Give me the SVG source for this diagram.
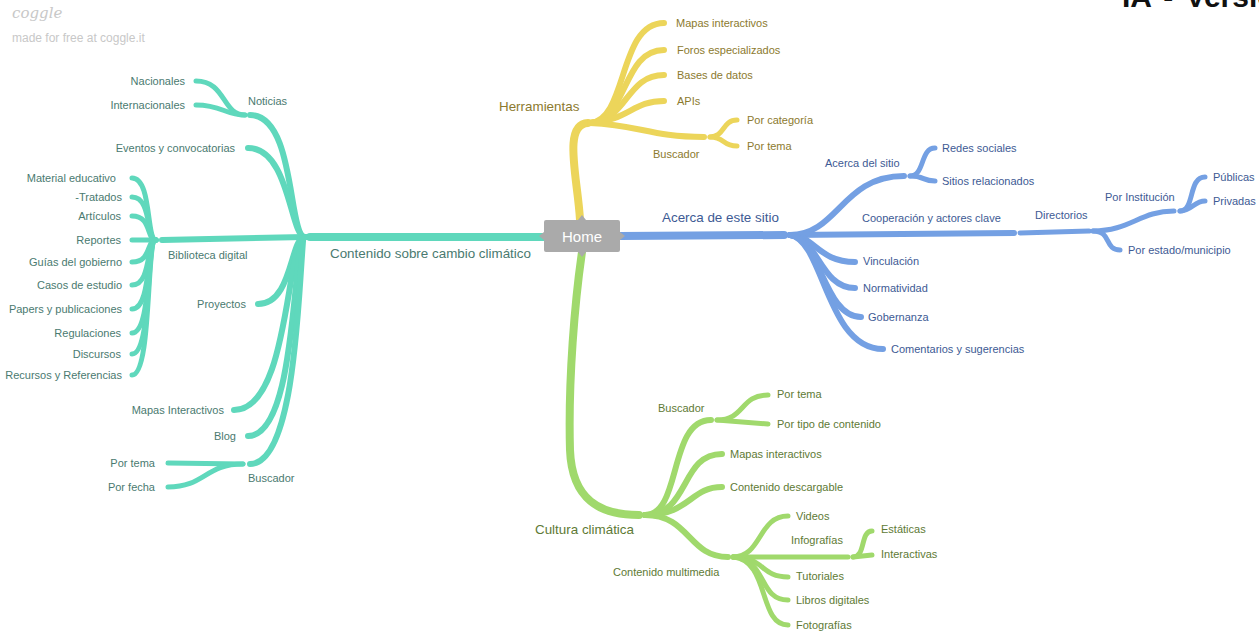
<svg xmlns="http://www.w3.org/2000/svg" width="1259" height="631" viewBox="0 0 1259 631">
<style>
text{font-family:"Liberation Sans",Arial,sans-serif;font-size:11px}
.b{fill:none;stroke-linecap:round;stroke-linejoin:round}
.t{stroke:#5fd8bc}.y{stroke:#ecd55a}.u{stroke:#74a0e3}.g{stroke:#a0d96c}
.w1{stroke-width:8}.w2{stroke-width:6}.w3{stroke-width:5}
.tt{fill:#4a7a70}.yt{fill:#8c7a2e}.ut{fill:#3d5a94}.gt{fill:#5e7a35}
.big{font-size:13.4px}
.e{text-anchor:end}
</style>
<rect width="1259" height="631" fill="#ffffff"/>
<text x="12" y="18" style="font-family:'DejaVu Serif',serif;font-style:italic;font-size:15px;fill:#c8c8c8">coggle</text>
<text x="12" y="42" style="font-size:12px;fill:#c8c8c8">made for free at coggle.it</text>
<text x="1122" y="7" style="font-size:30px;font-weight:bold;fill:#111;word-spacing:4px">IA - Versión</text>

<g id="connectors">
<!-- teal -->
<path class="b t w1" d="M544,237 L310,237"/>
<path class="b t w2" d="M305,237 C288,237 296,115 250,115"/>
<path class="b t w2" d="M305,237 C290,237 290,148 248,148"/>
<path class="b t w2" d="M305,237 L162,240"/>
<path class="b t w2" d="M305,237 C290,237 293,304 258,304"/>
<path class="b t w2" d="M305,237 C286,240 290,410 234,410"/>
<path class="b t w2" d="M305,237 C292,240 298,436 248,436"/>
<path class="b t w2" d="M305,237 C298,240 302,464 250,464"/>
<path class="b t w3" d="M245,115 C222,115 226,81 196,81"/>
<path class="b t w3" d="M245,115 C225,115 222,105 196,105"/>
<path class="b t w3" d="M243,464 L168,463"/>
<path class="b t w3" d="M243,464 C205,464 205,487 168,487"/>
<path class="b t w3" d="M156,240 C146,240 152,178 132,178"/>
<path class="b t w3" d="M156,240 C146,240 152,197 132,197"/>
<path class="b t w3" d="M156,240 C146,240 152,216 132,216"/>
<path class="b t w3" d="M156,240 L132,240"/>
<path class="b t w3" d="M156,240 C146,240 152,262 132,262"/>
<path class="b t w3" d="M156,240 C146,240 152,285 132,285"/>
<path class="b t w3" d="M156,240 C146,240 152,309 132,309"/>
<path class="b t w3" d="M156,240 C146,240 152,333 132,333"/>
<path class="b t w3" d="M156,240 C146,240 152,354 132,354"/>
<path class="b t w3" d="M156,240 C146,240 152,375 132,375"/>
<!-- yellow -->
<path class="b y w1" d="M580,220 C578,180 562,124 588,123"/>
<path class="b y w2" d="M590,123 C628,120 618,23 664,23"/>
<path class="b y w2" d="M590,123 C628,120 622,50 664,50"/>
<path class="b y w2" d="M590,123 C628,120 626,75 664,75"/>
<path class="b y w2" d="M590,123 C630,120 632,101 664,101"/>
<path class="b y w2" d="M590,123 C640,125 650,137 704,137"/>
<path class="b y w3" d="M710,137 C725,137 722,120 737,120"/>
<path class="b y w3" d="M710,137 C725,137 722,146 737,146"/>
<!-- blue -->
<path class="b u w1" d="M620,236 L784,235"/>
<path class="b u w2" d="M790,235 C838,235 842,176 904,176"/>
<path class="b u w2" d="M790,235 L1014,233"/>
<path class="b u w3" d="M1020,233 L1089,231"/>
<path class="b u w3" d="M1093,231 C1130,231 1140,211 1174,211"/>
<path class="b u w3" d="M1180,211 C1195,211 1188,177 1205,177"/>
<path class="b u w3" d="M1180,211 C1192,211 1194,201 1205,201"/>
<path class="b u w3" d="M1093,231 C1112,231 1104,250 1120,250"/>
<path class="b u w3" d="M910,176 C925,176 920,148 935,148"/>
<path class="b u w3" d="M910,176 C925,176 922,181 935,181"/>
<path class="b u w2" d="M790,235 C814,235 818,262 855,262"/>
<path class="b u w2" d="M790,235 C818,237 820,288 855,288"/>
<path class="b u w2" d="M790,235 C820,238 824,317 861,317"/>
<path class="b u w2" d="M790,235 C824,240 826,349 883,349"/>
<!-- green -->
<path class="b g w1" d="M582,252 C575,300 568,380 570,450 C572,500 600,515 639,515"/>
<path class="b g w2" d="M645,515 C682,515 668,420 711,420"/>
<path class="b g w2" d="M645,515 C690,515 680,454 722,454"/>
<path class="b g w2" d="M645,515 C690,515 690,487 722,487"/>
<path class="b g w2" d="M645,515 C690,515 688,557 728,557"/>
<path class="b g w3" d="M717,420 C745,420 740,395 768,395"/>
<path class="b g w3" d="M717,420 L768,424"/>
<path class="b g w3" d="M733,557 C762,557 758,516 788,516"/>
<path class="b g w3" d="M733,557 L848,557"/>
<path class="b g w3" d="M853,557 C866,557 860,531 872,531"/>
<path class="b g w3" d="M853,557 L872,555"/>
<path class="b g w3" d="M733,557 C765,557 760,577 788,577"/>
<path class="b g w3" d="M733,557 C768,560 758,600 788,600"/>
<path class="b g w3" d="M733,557 C770,560 758,625 788,625"/>
</g>

<g id="home">
<path d="M546,220 L578,220 L582,215 L586,220 L618,220 Q620,220 620,222 L620,232 L625,236 L620,240 L620,250 Q620,252 618,252 L586,252 L582,257 L578,252 L546,252 Q544,252 544,250 L544,240 L539,236 L544,232 L544,222 Q544,220 546,220 Z" fill="#aaaaaa"/>
<text x="582" y="242" text-anchor="middle" style="font-size:15px;fill:#ffffff">Home</text>
</g>

<g id="teal">
<text class="tt big" x="330" y="258">Contenido sobre cambio climático</text>
<text class="tt" x="248" y="105">Noticias</text>
<text class="tt e" x="185" y="85">Nacionales</text>
<text class="tt e" x="185" y="109">Internacionales</text>
<text class="tt e" x="235" y="152">Eventos y convocatorias</text>
<text class="tt" x="168" y="259">Biblioteca digital</text>
<text class="tt e" x="116" y="182">Material educativo</text>
<text class="tt e" x="122" y="201">-Tratados</text>
<text class="tt e" x="121" y="220">Artículos</text>
<text class="tt e" x="121" y="244">Reportes</text>
<text class="tt e" x="122" y="266">Guías del gobierno</text>
<text class="tt e" x="122" y="289">Casos de estudio</text>
<text class="tt e" x="122" y="313">Papers y publicaciones</text>
<text class="tt e" x="121" y="337">Regulaciones</text>
<text class="tt e" x="121" y="358">Discursos</text>
<text class="tt e" x="122" y="379">Recursos y Referencias</text>
<text class="tt e" x="246" y="308">Proyectos</text>
<text class="tt e" x="224" y="414">Mapas Interactivos</text>
<text class="tt e" x="236" y="440">Blog</text>
<text class="tt" x="248" y="482">Buscador</text>
<text class="tt e" x="155" y="467">Por tema</text>
<text class="tt e" x="155" y="491">Por fecha</text>
</g>

<g id="yellow">
<text class="yt big" x="499" y="111">Herramientas</text>
<text class="yt" x="676" y="27">Mapas interactivos</text>
<text class="yt" x="677" y="54">Foros especializados</text>
<text class="yt" x="677" y="79">Bases de datos</text>
<text class="yt" x="677" y="105">APIs</text>
<text class="yt" x="653" y="158">Buscador</text>
<text class="yt" x="747" y="124">Por categoría</text>
<text class="yt" x="747" y="150">Por tema</text>
</g>

<g id="blue">
<text class="ut big" x="662" y="222">Acerca de este sitio</text>
<text class="ut" x="825" y="167">Acerca del sitio</text>
<text class="ut" x="942" y="152">Redes sociales</text>
<text class="ut" x="942" y="185">Sitios relacionados</text>
<text class="ut" x="862" y="222">Cooperación y actores clave</text>
<text class="ut" x="1035" y="219">Directorios</text>
<text class="ut" x="1105" y="201">Por Institución</text>
<text class="ut" x="1213" y="181">Públicas</text>
<text class="ut" x="1213" y="205">Privadas</text>
<text class="ut" x="1128" y="254">Por estado/municipio</text>
<text class="ut" x="863" y="265">Vinculación</text>
<text class="ut" x="863" y="292">Normatividad</text>
<text class="ut" x="868" y="321">Gobernanza</text>
<text class="ut" x="891" y="353">Comentarios y sugerencias</text>
</g>

<g id="green">
<text class="gt big" x="535" y="534">Cultura climática</text>
<text class="gt" x="658" y="412">Buscador</text>
<text class="gt" x="777" y="398">Por tema</text>
<text class="gt" x="777" y="428">Por tipo de contenido</text>
<text class="gt" x="730" y="458">Mapas interactivos</text>
<text class="gt" x="730" y="491">Contenido descargable</text>
<text class="gt" x="613" y="576">Contenido multimedia</text>
<text class="gt" x="796" y="520">Videos</text>
<text class="gt" x="791" y="544">Infografías</text>
<text class="gt" x="881" y="533">Estáticas</text>
<text class="gt" x="881" y="558">Interactivas</text>
<text class="gt" x="796" y="580">Tutoriales</text>
<text class="gt" x="796" y="604">Libros digitales</text>
<text class="gt" x="796" y="629">Fotografías</text>
</g>
</svg>
